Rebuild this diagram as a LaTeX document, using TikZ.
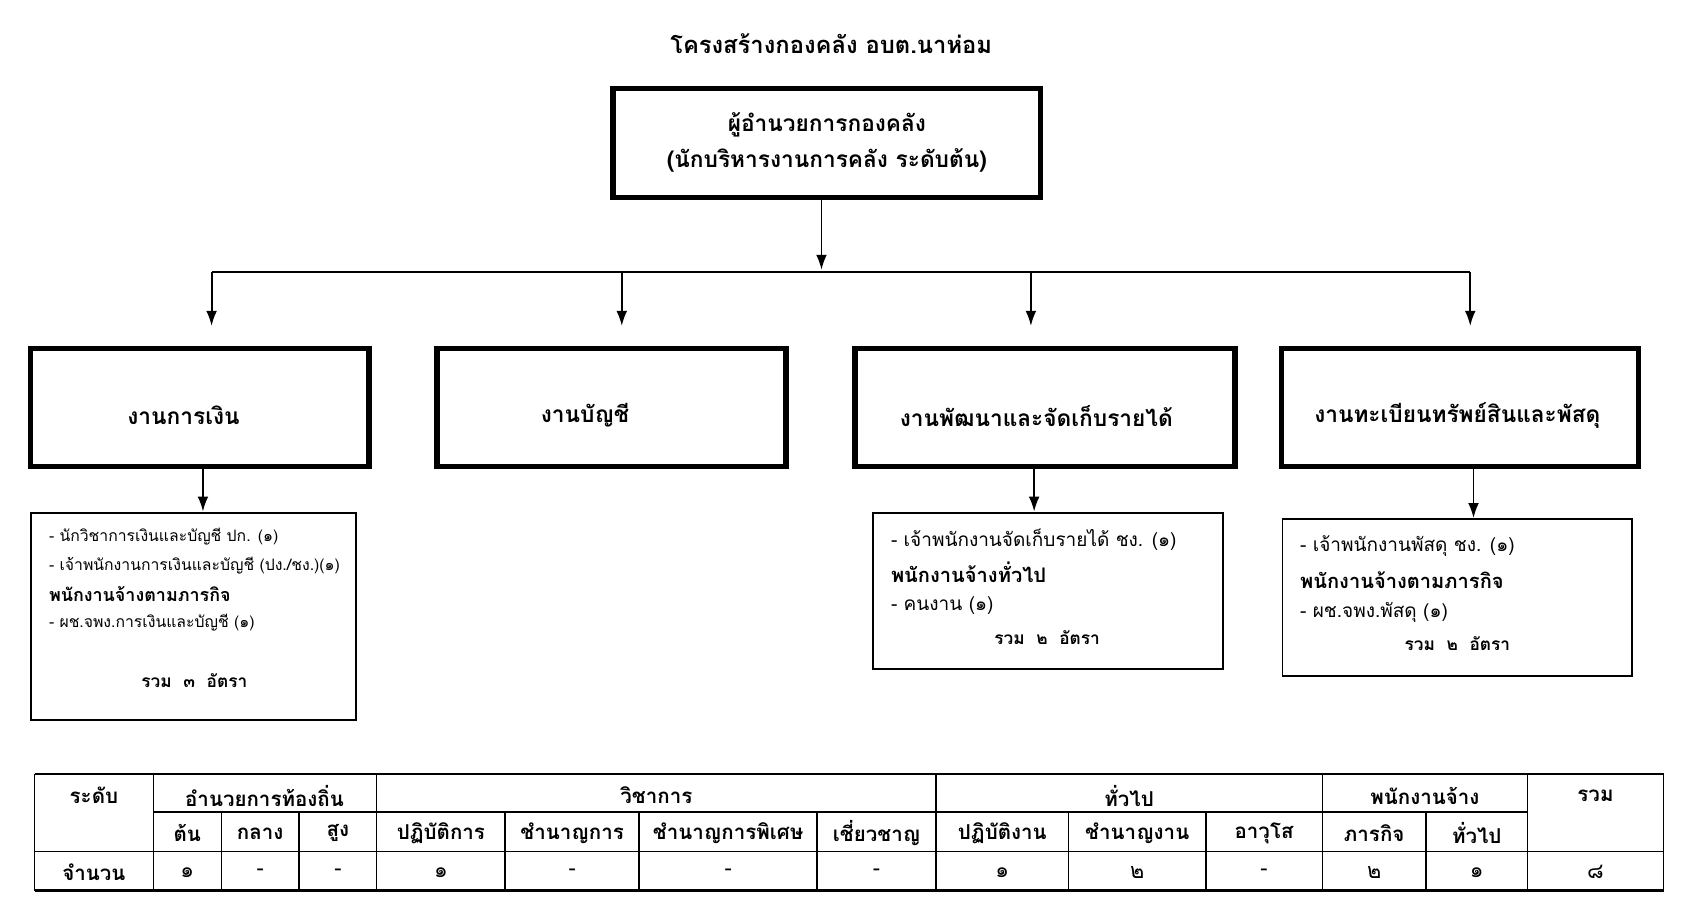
\documentclass[tikz,border=0pt]{standalone}
\usepackage{fontspec}
\newfontfamily\thai[Script=Thai]{Loma}
\usetikzlibrary{arrows.meta}
\begin{document}
\begin{tikzpicture}[x=0.5pt,y=-0.5pt,font=\thai,
  bigbox/.style={draw,line width=2.5pt,inner sep=0pt},
  detbox/.style={draw,line width=0.8pt,inner sep=0pt},
  arr/.style={-{Latex[length=7pt,width=5pt]},line width=0.9pt},
  lab/.style={font=\thai\bfseries\fontsize{10.5}{13}\selectfont},
  reg/.style={anchor=west,font=\thai\fontsize{7.3}{10}\selectfont,inner sep=0pt},
  bld/.style={anchor=west,font=\thai\bfseries\fontsize{8.3}{10}\selectfont,inner sep=0pt},
  reg2/.style={anchor=west,font=\thai\fontsize{8.8}{11}\selectfont,inner sep=0pt},
  bld2/.style={anchor=west,font=\thai\bfseries\fontsize{9.3}{11}\selectfont,inner sep=0pt},
  tot/.style={font=\thai\bfseries\fontsize{8}{10}\selectfont,inner sep=0pt},
  th/.style={font=\thai\bfseries\fontsize{9.5}{12}\selectfont,inner sep=0pt},
  td/.style={font=\thai\fontsize{10}{12}\selectfont,inner sep=0pt},
  tl/.style={line width=0.7pt}]
\useasboundingbox (0,0) rectangle (1560,852);
\node[lab,font=\thai\bfseries\fontsize{11}{13}\selectfont] (title) at (770,40) {โครงสร้างกองคลัง อบต.นาห่อม};
\draw[bigbox] (568,82) rectangle (964,183);
\node[lab,align=center] (top) at (766,132) {ผู้อำนวยการกองคลัง\\[4pt](นักบริหารงานการคลัง ระดับต้น)};
\coordinate (topb) at (761,183);
\coordinate (hub) at (761,250);
\draw[arr] (topb) -- (hub);
\coordinate (hl) at (196,252); \coordinate (hr) at (1362,252);
\draw[line width=0.9pt] (hl) -- (hr);
\foreach \x [count=\i] in {196,576,955,1362}{
  \coordinate (d\i) at (\x,252); \coordinate (e\i) at (\x,302);
  \draw[arr] (d\i) -- (e\i);}
\draw[bigbox] (28,323) rectangle (342,432);
\node[lab] (b1) at (170,385) {งานการเงิน};
\draw[bigbox] (405,323) rectangle (728,432);
\node[lab] (b2) at (542,385) {งานบัญชี};
\draw[bigbox] (792,323) rectangle (1144,432);
\node[lab] (b3) at (960,385) {งานพัฒนาและจัดเก็บรายได้};
\draw[bigbox] (1187,323) rectangle (1518,432);
\node[lab] (b4) at (1350,385) {งานทะเบียนทรัพย์สินและพัสดุ};
% detail boxes
\draw[detbox] (29,475) rectangle (330,667);
\draw[detbox] (809,475) rectangle (1133,620);
\draw[detbox] (1188,481) rectangle (1512,626);
\coordinate (s1) at (188,432); \coordinate (t1) at (188,474);
\coordinate (s3) at (958,432); \coordinate (t3) at (958,474);
\coordinate (s4) at (1365,432); \coordinate (t4) at (1365,480);
\draw[arr] (s1) -- (t1); \draw[arr] (s3) -- (t3); \draw[arr] (s4) -- (t4);
\node[reg] (l11) at (45,497) {- นักวิชาการเงินและบัญชี ปก. (๑)};
\node[reg] (l12) at (45,524) {- เจ้าพนักงานการเงินและบัญชี (ปง./ชง.)(๑)};
\node[bld] (l13) at (45,550) {พนักงานจ้างตามภารกิจ};
\node[reg] (l14) at (45,577) {- ผช.จพง.การเงินและบัญชี (๑)};
\node[tot] (l15) at (180,630) {รวม~~๓~~อัตรา};
\node[reg2] (l31) at (825,500) {- เจ้าพนักงานจัดเก็บรายได้ ชง. (๑)};
\node[bld2] (l32) at (825,530) {พนักงานจ้างทั่วไป};
\node[reg2] (l33) at (825,561) {- คนงาน (๑)};
\node[tot] (l34) at (970,591) {รวม~~๒~~อัตรา};
\node[reg2] (l41) at (1204,506) {- เจ้าพนักงานพัสดุ ชง. (๑)};
\node[bld2] (l42) at (1204,537) {พนักงานจ้างตามภารกิจ};
\node[reg2] (l43) at (1204,567) {- ผช.จพง.พัสดุ (๑)};
\node[tot] (l44) at (1350,596) {รวม~~๒~~อัตรา};
% table
\draw[tl] (32,717) -- (1541,717);
\draw[tl] (142,752) -- (1415,752);
\draw[tl] (32,789) -- (1541,789);
\draw[line width=1.2pt] (32,825) -- (1541,825);
\foreach \x in {32,142,349,867,1225,1415,1541} \draw[tl] (\x,717) -- (\x,825);
\foreach \x in {205,277,468,592,757,990,1117,1321} \draw[tl] (\x,752) -- (\x,825);
\node[th] (h0) at (87,737) {ระดับ};
\node[th] (h1) at (245,737) {อำนวยการท้องถิ่น};
\node[th] (h2) at (608,737) {วิชาการ};
\node[th] (h3) at (1046,737) {ทั่วไป};
\node[th] (h4) at (1320,737) {พนักงานจ้าง};
\node[th] (h5) at (1478,737) {รวม};
\node[th] (r0) at (87,808) {จำนวน};
\foreach \a/\b/\t/\v [count=\i] in {142/205/ต้น/๑,205/277/กลาง/-,277/349/สูง/-,349/468/ปฏิบัติการ/๑,468/592/ชำนาญการ/-,592/757/ชำนาญการพิเศษ/-,757/867/เชี่ยวชาญ/-,867/990/ปฏิบัติงาน/๑,990/1117/ชำนาญงาน/๒,1117/1225/อาวุโส/-,1225/1321/ภารกิจ/๒,1321/1415/ทั่วไป/๑}{
  \node[th] (c\i) at ({(\a+\b)/2},772) {\t};
  \node[td] (v\i) at ({(\a+\b)/2},808) {\v};}
\node[td] (vt) at (1478,808) {๘};
\end{tikzpicture}
\end{document}
